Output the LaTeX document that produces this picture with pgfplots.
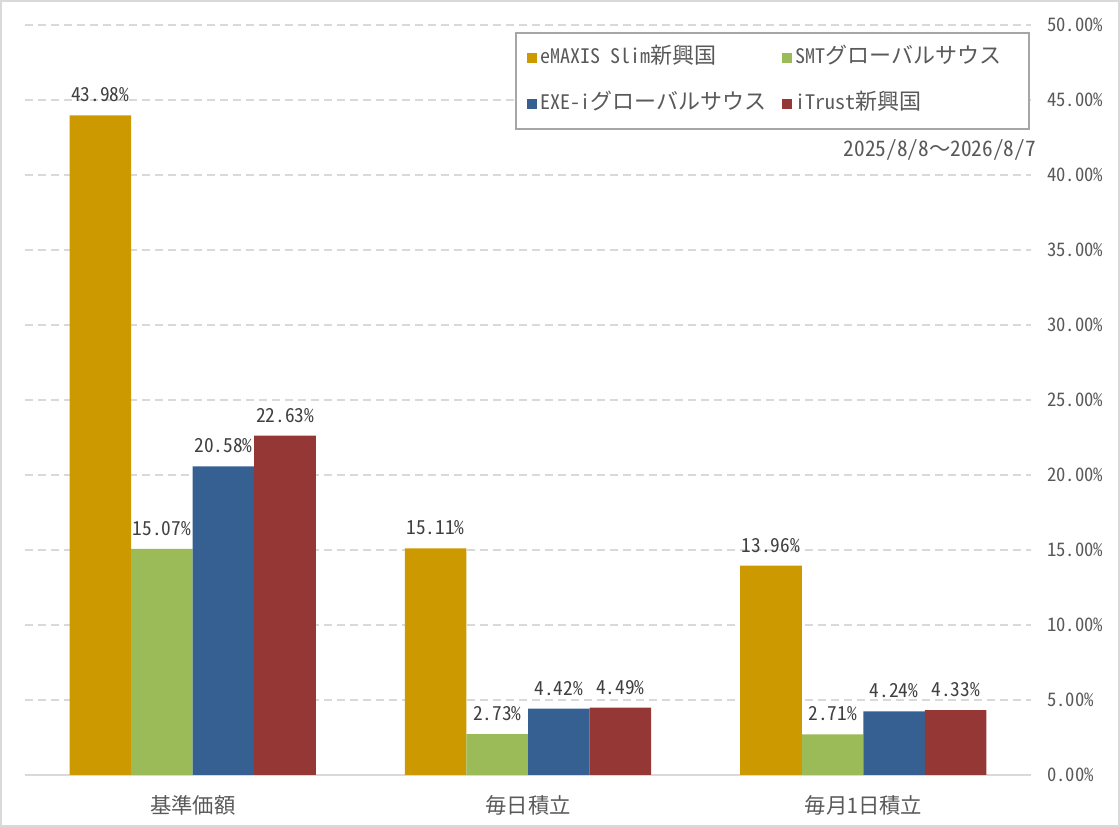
\documentclass[border=0pt]{standalone}
\usepackage{pgfplots}
\pgfplotsset{compat=1.18}
\usepackage{fontspec}
\setmainfont[RawFeature={+hwid}]{Noto Sans CJK JP}
\newfontfamily\fw{Noto Sans CJK JP}
\definecolor{cgold}{HTML}{CC9900}
\definecolor{cgreen}{HTML}{9BBB59}
\definecolor{cblue}{HTML}{366092}
\definecolor{cred}{HTML}{953735}
\definecolor{gridgray}{HTML}{D9D9D9}
\definecolor{bordergray}{HTML}{D9D9D9}
\definecolor{legendgray}{HTML}{A6A6A6}
\definecolor{tickgray}{HTML}{595959}
\definecolor{labelgray}{HTML}{404040}
\newcommand{\J}[1]{{\fontsize{16.5pt}{18pt}\selectfont #1}}
\pgfplotsset{sq legend/.style={legend image code/.code={\fill[##1,draw=none] (0pt,-3.75pt) rectangle (7.5pt,3.75pt);}}}
\begin{document}
\begin{tikzpicture}
\useasboundingbox (-18.75pt,-39pt) rectangle (821.25pt,581.25pt);
\draw[color=bordergray, line width=1.5pt] (-18pt,-38.25pt) rectangle (820.5pt,580.5pt);
\begin{axis}[
  at={(0pt,0pt)}, anchor=south west, scale only axis,
  width=754.5pt, height=562.5pt,
  xmin=-0.5, xmax=2.5, ymin=0, ymax=50,
  ybar=0pt, bar width=0.1836,
  every axis plot post/.append style={sq legend},
  clip=false,
  xtick={0,1,2}, xticklabels={基準価額,毎日積立,毎月1日積立},
  ytick={0,5,10,15,20,25,30,35,40,45,50},
  axis x line*=bottom, axis y line*=right,
  y axis line style={draw=none},
  x axis line style={-, draw=gridgray, line width=1.5pt},
  major tick length=0pt,
  ymajorgrids,
  grid style={draw=gridgray, line width=1.1pt, dash pattern=on 6pt off 3.75pt},
  yticklabel={\pgfmathprintnumber[fixed,fixed zerofill,precision=2,assume math mode=true]{\tick}\%},
  yticklabel style={font=\fontsize{14pt}{16pt}\selectfont, text=tickgray, anchor=west, inner sep=0pt, xshift=12pt},
  xticklabel style={font=\fontsize{16pt}{18pt}\selectfont, text=tickgray, anchor=center, inner sep=0pt, yshift=-22.5pt},
  nodes near coords={\pgfmathprintnumber[fixed,fixed zerofill,precision=2,assume math mode=true]{\pgfplotspointmeta}\%},
  every node near coord/.append style={font=\fontsize{14.5pt}{16pt}\selectfont, text=labelgray, anchor=south, inner sep=0pt, yshift=9.75pt},
  legend columns=2,
  legend style={at={(rel axis cs:0.4866,0.9907)}, anchor=north west,
    draw=legendgray, line width=1.5pt, fill=white,
    inner xsep=8.25pt, inner ysep=11.25pt,
    font=\fontsize{15pt}{17pt}\selectfont, text=tickgray,
    cells={anchor=west},
    nodes={inner sep=0pt, text height=12pt, text depth=3pt},
    row sep=19.5pt,
    /tikz/every odd column/.style={column sep=3pt},
    /tikz/every even column/.style={column sep=0pt}},
]
\addplot[fill=cgold, draw=none] coordinates {(0,43.98) (1,15.11) (2,13.96)};
\addlegendentry{\makebox[180.75pt][l]{eMAXIS Slim\J{新興国}}}
\addplot[fill=cgreen, draw=none] coordinates {(0,15.07) (1,2.73) (2,2.71)};
\addlegendentry{\makebox[166.5pt][l]{SMT\J{グローバルサウス}}}
\addplot[fill=cblue, draw=none] coordinates {(0,20.58) (1,4.42) (2,4.24)};
\addlegendentry{\makebox[180.75pt][l]{EXE-i\J{グローバルサウス}}}
\addplot[fill=cred, draw=none] coordinates {(0,22.63) (1,4.49) (2,4.33)};
\addlegendentry{\makebox[166.5pt][l]{iTrust\J{新興国}}}
\node[anchor=base east, inner sep=0pt, font=\fontsize{16pt}{18pt}\selectfont, text=tickgray] at (rel axis cs:1.005,0.824) {2025/8/8{\fw ～}2026/8/7};
\end{axis}
\end{tikzpicture}
\end{document}
